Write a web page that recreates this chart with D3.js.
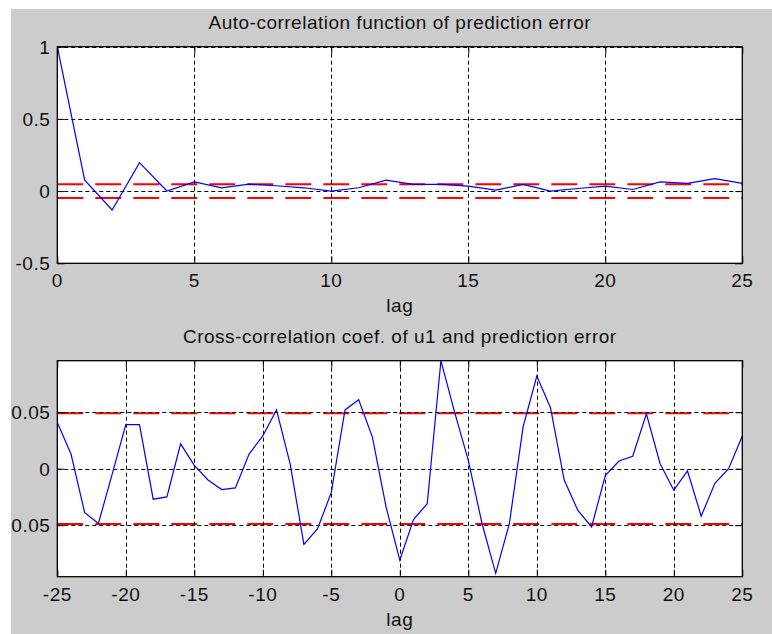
<!DOCTYPE html>
<html>
<head>
<meta charset="utf-8">
<script src="https://cdn.jsdelivr.net/npm/d3@7"></script>
<style>
  html, body { margin: 0; padding: 0; background: #ffffff; }
  svg { display: block; }
  text { font-family: "Liberation Sans", Arial, sans-serif; fill: #111; }
</style>
</head>
<body>
<svg id="chart" width="772" height="634"></svg>
<script>
// ---------- data ----------
const acfTitle = "Auto-correlation function of prediction error";
const ccTitle = "Cross-correlation coef. of u1 and prediction error";
const xLabel = "lag";

const acfLags = [0,1,2,3,4,5,6,7,8,9,10,11,12,13,14,15,16,17,18,19,20,21,22,23,24,25];
const acfValues = [1.0, 0.076, -0.131, 0.197, 0.001, 0.064, 0.023, 0.048, 0.037, 0.023,
                   0.0, 0.023, 0.076, 0.046, 0.046, 0.034, 0.007, 0.046, 0.0, 0.018,
                   0.034, 0.011, 0.064, 0.053, 0.087, 0.053];
const acfConf = 0.047;
const acfXTicks = [0, 5, 10, 15, 20, 25];
const acfYTicks = [-0.5, 0, 0.5, 1];
const acfYTickLabels = ["-0.5", "0", "0.5", "1"];

const ccLags = [-25,-24,-23,-22,-21,-20,-19,-18,-17,-16,-15,-14,-13,-12,-11,-10,-9,-8,-7,-6,-5,-4,-3,-2,-1,
                0,1,2,3,4,5,6,7,8,9,10,11,12,13,14,15,16,17,18,19,20,21,22,23,24,25];
const ccValues = [0.041, 0.013, -0.039, -0.0485, -0.005, 0.039, 0.039, -0.027, -0.025, 0.022,
                  0.003, -0.010, -0.0185, -0.017, 0.013, 0.029, 0.052, 0.004, -0.067, -0.053,
                  -0.021, 0.052, 0.061, 0.028, -0.034,
                  -0.081, -0.045, -0.031, 0.0956, 0.050, 0.0074, -0.0485, -0.0926, -0.0485, 0.037,
                  0.082, 0.054, -0.010, -0.037, -0.0515, -0.006, 0.0068, 0.011, 0.0485, 0.0044,
                  -0.019, -0.002, -0.042, -0.013, 0.0, 0.029];
const ccConf = 0.049;
const ccXTicks = [-25, -20, -15, -10, -5, 0, 5, 10, 15, 20, 25];
const ccYTicks = [-0.05, 0, 0.05];
const ccYTickLabels = ["-0.05", "0", "0.05"];

// ---------- drawing ----------
const svg = d3.select("#chart");
const defs = svg.append("defs");
defs.append("clipPath").attr("id", "figclip")
  .append("rect").attr("x", 11).attr("y", 9).attr("width", 761).attr("height", 625);

const fig = svg.append("g").attr("clip-path", "url(#figclip)");
fig.append("rect").attr("x", 11).attr("y", 9).attr("width", 761).attr("height", 625)
  .attr("fill", "#cccccc");

const FS = 19, LS = 0.5;

function panel(opt) {
  const { left, right, top, bottom } = opt.box;
  const x = d3.scaleLinear().domain(opt.xDomain).range([left, right]);
  const y = d3.scaleLinear().domain(opt.yDomain).range([bottom, top]);
  const g = fig.append("g");
  const id = "clip" + opt.id;
  defs.append("clipPath").attr("id", id)
    .append("rect").attr("x", left).attr("y", top).attr("width", right - left).attr("height", bottom - top);

  g.append("rect").attr("x", left).attr("y", top).attr("width", right - left).attr("height", bottom - top)
    .attr("fill", "#ffffff");

  const inner = g.append("g").attr("clip-path", `url(#${id})`);

  // confidence lines (red dashed)
  inner.selectAll("line.conf").data([opt.conf, -opt.conf]).join("line")
    .attr("class", "conf")
    .attr("x1", left).attr("x2", right)
    .attr("y1", d => y(d)).attr("y2", d => y(d))
    .attr("stroke", "#ff0000").attr("stroke-width", 2)
    .attr("stroke-dasharray", "26,12");

  // grid
  inner.selectAll("line.gx").data(opt.xTicks).join("line")
    .attr("class", "gx")
    .attr("x1", d => Math.round(x(d)) + 0.5).attr("x2", d => Math.round(x(d)) + 0.5)
    .attr("y1", top).attr("y2", bottom)
    .attr("stroke", "#000").attr("stroke-width", 1).attr("stroke-dasharray", "4,3");
  inner.selectAll("line.gy").data(opt.yTicks).join("line")
    .attr("class", "gy")
    .attr("x1", left).attr("x2", right)
    .attr("y1", d => Math.round(y(d)) + 0.5).attr("y2", d => Math.round(y(d)) + 0.5)
    .attr("stroke", "#000").attr("stroke-width", 1).attr("stroke-dasharray", "4,3");

  // data line
  const line = d3.line().x(d => x(d[0])).y(d => y(d[1]));
  inner.append("path")
    .datum(opt.lags.map((l, i) => [l, opt.values[i]]))
    .attr("d", line)
    .attr("fill", "none").attr("stroke", "#0000ff").attr("stroke-width", 1.2);

  // axes with inward ticks on all sides
  const tl = 7;
  const xb = d3.axisBottom(x).tickValues(opt.xTicks).tickSize(-tl).tickFormat("");
  const xt = d3.axisTop(x).tickValues(opt.xTicks).tickSize(-tl).tickFormat("");
  const yl = d3.axisLeft(y).tickValues(opt.yTicks).tickSize(-tl).tickFormat("");
  const yr = d3.axisRight(y).tickValues(opt.yTicks).tickSize(-tl).tickFormat("");
  const axes = [
    g.append("g").attr("transform", `translate(0,${bottom})`).call(xb),
    g.append("g").attr("transform", `translate(0,${top})`).call(xt),
    g.append("g").attr("transform", `translate(${left},0)`).call(yl),
    g.append("g").attr("transform", `translate(${right},0)`).call(yr)
  ];
  axes.forEach(a => {
    a.select(".domain").remove();
    a.selectAll("line").attr("stroke", "#000").attr("stroke-width", 1);
  });
  g.append("rect").attr("x", left).attr("y", top).attr("width", right - left).attr("height", bottom - top)
    .attr("fill", "none").attr("stroke", "#000").attr("stroke-width", 1.3);

  // tick labels
  g.selectAll("text.xt").data(opt.xTicks).join("text")
    .attr("class", "xt")
    .attr("x", d => x(d)).attr("y", bottom + 24)
    .attr("text-anchor", "middle").attr("font-size", FS).attr("letter-spacing", LS)
    .text(d => String(d));
  g.selectAll("text.yt").data(opt.yTicks).join("text")
    .attr("class", "yt")
    .attr("x", left - 7).attr("y", d => y(d)).attr("dy", "0.36em")
    .attr("text-anchor", "end").attr("font-size", FS).attr("letter-spacing", LS)
    .text((d, i) => opt.yLabels[i]);

  // title and x label
  g.append("text").attr("x", (left + right) / 2).attr("y", top - 18)
    .attr("text-anchor", "middle").attr("font-size", FS).attr("letter-spacing", LS)
    .text(opt.title);
  g.append("text").attr("x", (left + right) / 2).attr("y", bottom + 49)
    .attr("text-anchor", "middle").attr("font-size", FS).attr("letter-spacing", LS)
    .text(xLabel);
}

panel({
  id: "a", box: { left: 57.3, right: 742.3, top: 46.7, bottom: 263.3 },
  xDomain: [0, 25], yDomain: [-0.5, 1],
  lags: acfLags, values: acfValues, conf: acfConf,
  xTicks: acfXTicks, yTicks: acfYTicks, yLabels: acfYTickLabels,
  title: acfTitle
});

panel({
  id: "b", box: { left: 57.3, right: 742.3, top: 360.7, bottom: 576.7 },
  xDomain: [-25, 25], yDomain: [-0.0956, 0.0956],
  lags: ccLags, values: ccValues, conf: ccConf,
  xTicks: ccXTicks, yTicks: ccYTicks, yLabels: ccYTickLabels,
  title: ccTitle
});
</script>
</body>
</html>
